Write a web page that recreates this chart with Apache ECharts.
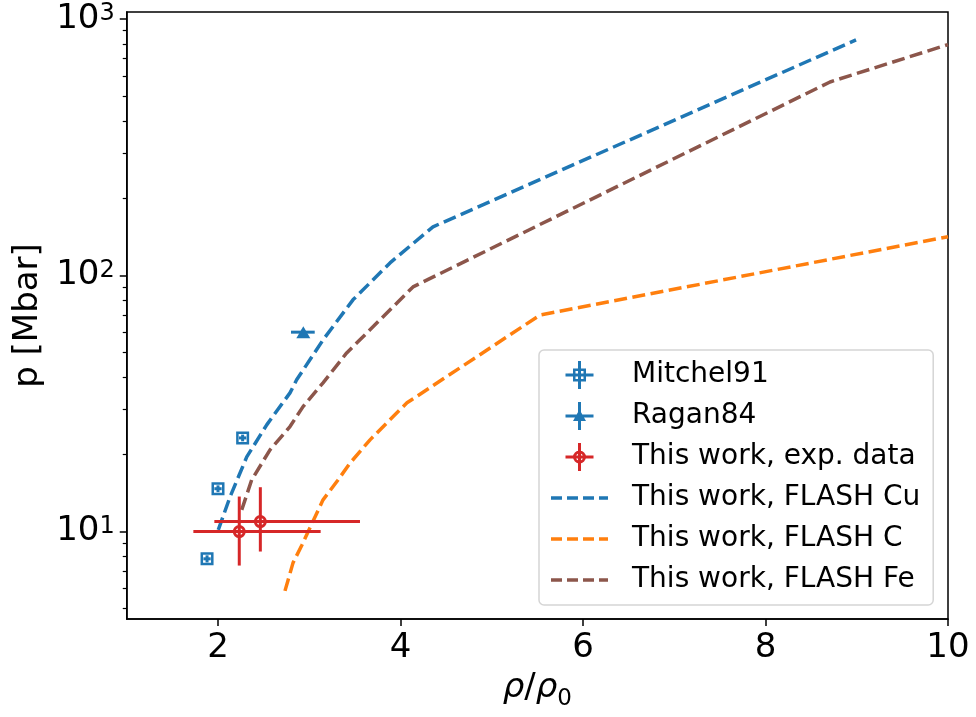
<!DOCTYPE html>
<html>
<head>
<meta charset="utf-8">
<script src="https://cdn.jsdelivr.net/npm/echarts@6/dist/echarts.min.js"></script>
<style>
html, body { margin: 0; padding: 0; background: #fff; }
#chart { width: 976px; height: 717px; }
</style>
</head>
<body>
<div id="chart"></div>
<script>
// tick positions
const xTicks = [2, 4, 6, 8, 10]
const yMajor = [10, 100, 1000]
const yMinor = [5, 6, 7, 8, 9, 20, 30, 40, 50, 60, 70, 80, 90, 200, 300, 400, 500, 600, 700, 800, 900]

// Mitchel91
const mitchelRho = [1.88, 2.0, 2.27]
const mitchelP = [7.83, 14.7, 23.2]
const mitchelRhoErr = [0.04, 0.04, 0.04]
const mitchelPErr = [0.25, 0.45, 0.7]

// Ragan84
const raganRho = [2.935]
const raganP = [60.0]
const raganRhoLo = [2.80]
const raganRhoHi = [3.06]
const raganPErr = [1.8]

// This work, exp. data
const expRho = [2.233, 2.464]
const expP = [10.0, 10.94]
const expRhoLo = [1.73, 1.96]
const expRhoHi = [3.125, 3.556]
const expPLo = [7.37, 8.36]
const expPHi = [13.7, 14.9]

// FLASH curves
const cuRho = [2.003, 2.132, 2.315, 2.534, 2.789, 2.862, 3.151, 3.479, 3.885, 4.356, 8.992]
const cuP = [10.15, 13.66, 19.56, 26.09, 34.77, 39.1, 55.97, 80.2, 111.8, 154.6, 829]
const cRho = [2.734, 2.822, 2.920, 3.063, 3.151, 3.315, 3.447, 3.666, 3.852, 4.071, 5.529, 10.0]
const cP = [5.87, 7.55, 8.87, 11.41, 13.3, 15.9, 18.5, 22.8, 26.6, 31.8, 70.0, 141.5]
const feRho = [2.26, 2.369, 2.570, 2.789, 2.932, 3.151, 3.410, 3.775, 4.137, 8.707, 10.0]
const feP = [12.15, 15.91, 20.84, 25.69, 30.74, 38.04, 49.8, 67.0, 90.1, 568, 795]

const FONT = 'DejaVu Sans'
const BLUE = '#1f77b4'
const ORANGE = '#ff7f0e'
const BROWN = '#8c564b'
const RED = '#d62728'
const DASH = [13, 5.5]

const squareRing = 'path://M0 0H13V13H0Z M2.5 2.5V10.5H10.5V2.5Z'
const circleRing = 'path://M0 6.5A6.5 6.5 0 1 1 13 6.5A6.5 6.5 0 1 1 0 6.5Z M3 6.5A3.5 3.5 0 1 0 10 6.5A3.5 3.5 0 1 0 3 6.5Z'

const bars = 'M0 12.5H28V15.5H0Z M12.5 0H15.5V28H12.5Z '
const squareIcon = 'path://' + bars + 'M7.5 7.5H20.5V20.5H7.5Z M10 10V18H18V10Z'
const triangleIcon = 'path://' + bars + 'M14 7.5L20.5 19H7.5Z'
const circleIcon = 'path://' + bars + 'M7.5 14A6.5 6.5 0 1 1 20.5 14A6.5 6.5 0 1 1 7.5 14Z M10.5 14A3.5 3.5 0 1 0 17.5 14A3.5 3.5 0 1 0 10.5 14Z'
// dashed handle, 57 x 3.5
const dashIcon = 'path://M0 0H11V3.5H0Z M16 0H27V3.5H16Z M32 0H43V3.5H32Z M48 0H57V3.5H48Z'

function pairs(xs, ys) {
  return xs.map((x, i) => [x, ys[i]])
}

function errorBarItem(params, api) {
  const x = api.value(0)
  const y = api.value(1)
  const a = api.coord([api.value(2), y])
  const b = api.coord([api.value(3), y])
  const c = api.coord([x, api.value(4)])
  const d = api.coord([x, api.value(5)])
  const style = { stroke: api.visual('color'), lineWidth: 3 }
  return {
    type: 'group',
    children: [
      { type: 'line', shape: { x1: a[0], y1: a[1], x2: b[0], y2: b[1] }, style },
      { type: 'line', shape: { x1: c[0], y1: c[1], x2: d[0], y2: d[1] }, style }
    ]
  }
}

function errorSeries(name, color, rows) {
  return {
    name,
    type: 'custom',
    renderItem: errorBarItem,
    encode: { x: 0, y: 1 },
    itemStyle: { color },
    data: rows,
    z: 3
  }
}

function lineSeries(name, color, xs, ys) {
  return {
    name,
    type: 'line',
    data: pairs(xs, ys),
    symbol: 'none',
    lineStyle: { color, width: 3.5, type: DASH },
    itemStyle: { color },
    z: 2
  }
}

const mitchelRows = mitchelRho.map((x, i) => [
  x, mitchelP[i], x - mitchelRhoErr[i], x + mitchelRhoErr[i],
  mitchelP[i] - mitchelPErr[i], mitchelP[i] + mitchelPErr[i]
])
const raganRows = raganRho.map((x, i) => [
  x, raganP[i], raganRhoLo[i], raganRhoHi[i], raganP[i] - raganPErr[i], raganP[i] + raganPErr[i]
])
const expRows = expRho.map((x, i) => [x, expP[i], expRhoLo[i], expRhoHi[i], expPLo[i], expPHi[i]])

const chart = echarts.init(document.getElementById('chart'), null, { renderer: 'canvas' })

const axisLineStyle = { color: '#000', width: 1.5 }

chart.setOption({
  animation: false,
  backgroundColor: '#fff',
  textStyle: { fontFamily: FONT },
  grid: {
    left: 126.75,
    right: 28,
    top: 12,
    bottom: 98,
    show: true,
    borderColor: '#000',
    borderWidth: 1.5,
    containLabel: false,
    outerBoundsMode: 'none'
  },
  xAxis: {
    type: 'value',
    min: 1,
    max: 10,
    name: '{i|ρ}{n|/}{i|ρ}{sub|0}',
    nameLocation: 'middle',
    nameGap: 52,
    nameTextStyle: {
      rich: {
        i: { fontFamily: FONT, fontSize: 34, fontStyle: 'italic', color: '#000' },
        n: { fontFamily: FONT, fontSize: 34, color: '#000' },
        sub: { fontFamily: FONT, fontSize: 23, color: '#000', verticalAlign: 'bottom', padding: [0, 0, -6, 0] }
      }
    },
    axisLine: { lineStyle: axisLineStyle },
    axisTick: { customValues: xTicks, length: 7, lineStyle: axisLineStyle },
    axisLabel: {
      customValues: xTicks,
      margin: 12,
      fontFamily: FONT,
      fontSize: 34,
      color: '#000'
    },
    splitLine: { show: false }
  },
  yAxis: [
    {
      type: 'log',
      min: 4.56,
      max: 1065,
      position: 'left',
      name: 'p [Mbar]',
      nameLocation: 'middle',
      nameGap: 82,
      nameTextStyle: { fontFamily: FONT, fontSize: 34, color: '#000' },
      axisLine: { show: true, lineStyle: axisLineStyle },
      axisTick: { customValues: yMajor, length: 7, lineStyle: axisLineStyle },
      axisLabel: {
        customValues: yMajor,
        margin: 12,
        formatter: (v) => '{b|10}{s|' + Math.round(Math.log10(v)) + '}',
        rich: {
          b: { fontFamily: FONT, fontSize: 34, color: '#000' },
          s: { fontFamily: FONT, fontSize: 24, color: '#000', verticalAlign: 'top' }
        }
      },
      splitLine: { show: false }
    },
    {
      type: 'log',
      min: 4.56,
      max: 1065,
      position: 'left',
      axisLine: { show: false },
      axisTick: { customValues: yMinor, length: 4, lineStyle: { color: '#000', width: 1.2 } },
      axisLabel: { show: false },
      splitLine: { show: false }
    }
  ],
  legend: {
    orient: 'vertical',
    left: 539,
    top: 350,
    padding: [11, 13, 11, 12],
    itemWidth: 57,
    itemHeight: 28,
    itemGap: 13,
    backgroundColor: '#fff',
    borderColor: '#d5d5d5',
    borderWidth: 1.5,
    borderRadius: 5,
    textStyle: { fontFamily: FONT, fontSize: 28, color: '#000', padding: [0, 0, 0, 19] },
    data: [
      { name: 'Mitchel91', icon: squareIcon },
      { name: 'Ragan84', icon: triangleIcon },
      { name: 'This work, exp. data', icon: circleIcon },
      { name: 'This work, FLASH Cu', icon: dashIcon },
      { name: 'This work, FLASH C', icon: dashIcon },
      { name: 'This work, FLASH Fe', icon: dashIcon }
    ]
  },
  series: [
    lineSeries('This work, FLASH Cu', BLUE, cuRho, cuP),
    lineSeries('This work, FLASH C', ORANGE, cRho, cP),
    lineSeries('This work, FLASH Fe', BROWN, feRho, feP),
    errorSeries('Mitchel91 err', BLUE, mitchelRows),
    errorSeries('Ragan84 err', BLUE, raganRows),
    errorSeries('exp err', RED, expRows),
    {
      name: 'Mitchel91',
      type: 'scatter',
      data: pairs(mitchelRho, mitchelP),
      symbol: squareRing,
      symbolSize: 13,
      itemStyle: { color: BLUE, opacity: 1 },
      z: 4
    },
    {
      name: 'Ragan84',
      type: 'scatter',
      data: pairs(raganRho, raganP),
      symbol: 'triangle',
      symbolSize: [14, 12],
      itemStyle: { color: BLUE, opacity: 1 },
      z: 4
    },
    {
      name: 'This work, exp. data',
      type: 'scatter',
      data: pairs(expRho, expP),
      symbol: circleRing,
      symbolSize: 13,
      itemStyle: { color: RED, opacity: 1 },
      z: 4
    }
  ]
})
</script>
</body>
</html>
